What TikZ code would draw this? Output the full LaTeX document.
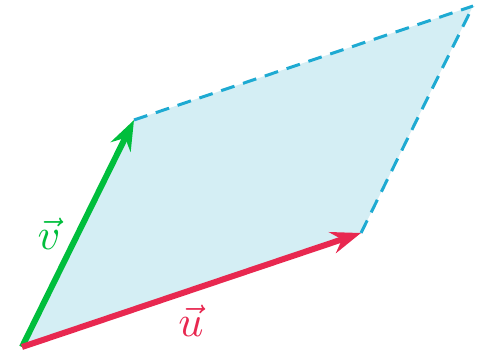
\documentclass[tikz,border=0pt]{standalone}
\usepackage{graphicx}
\usetikzlibrary{arrows.meta}
\definecolor{vgreen}{RGB}{0,190,60}
\definecolor{ured}{RGB}{232,40,80}
\definecolor{pfill}{RGB}{212,238,244}
\definecolor{pdash}{RGB}{30,170,210}
\tikzset{
  vecarrow/.style={line width=6pt,-{Stealth[length=30pt,width=22pt,inset=10pt]}},
  sidedash/.style={pdash,line width=3pt,dash pattern=on 14pt off 9pt},
  veclabel/.style={inner sep=0pt}
}
\newcommand{\biglabel}[1]{\scalebox{4.4}{$#1$}}
\begin{document}
\begin{tikzpicture}[x=1pt,y=1pt]
\useasboundingbox (0,0) rectangle (486,352);
\coordinate (O) at (22,5);
\coordinate (U) at (361,119);
\coordinate (V) at (134,232);
\coordinate (W) at (473,346);
\fill[pfill] (O) -- (U) -- (W) -- (V) -- cycle;
\draw[sidedash] (V) -- (W);
\draw[sidedash] (U) -- (W);
\draw[vecarrow,vgreen] (O) -- (V);
\draw[vecarrow,ured] (O) -- (U);
\node[veclabel,text=vgreen] (lv) at (49,118) {\biglabel{\vec{v}}};
\node[veclabel,text=ured] (lu) at (191,31) {\biglabel{\vec{u}}};
\end{tikzpicture}
\end{document}
